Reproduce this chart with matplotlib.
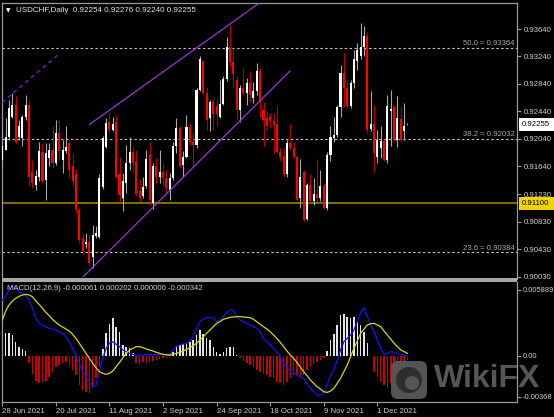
import matplotlib
matplotlib.use('Agg')
import matplotlib.pyplot as plt
import matplotlib.transforms as mtrans
from matplotlib.patches import Rectangle, FancyBboxPatch, Circle

plt.rcParams['font.family'] = ['Liberation Sans', 'DejaVu Sans']

# ---------------- data ----------------
opens = [0.9173, 0.9188, 0.9207, 0.9236, 0.9253, 0.9207, 0.9205, 0.9236, 0.9253, 0.9156,
         0.9136, 0.9149, 0.9184, 0.9144, 0.9176, 0.9188, 0.9169, 0.9212, 0.9173, 0.9186,
         0.9198, 0.9165, 0.9152, 0.9100, 0.9060, 0.9050, 0.9054, 0.9031, 0.9063, 0.9061,
         0.9134, 0.9192, 0.9228, 0.9217, 0.9228, 0.9152, 0.9118, 0.9139, 0.9169, 0.9184,
         0.9172, 0.9128, 0.9120, 0.9135, 0.9180, 0.9110, 0.9164, 0.9149, 0.9155, 0.9147,
         0.9130, 0.9147, 0.9194, 0.9219, 0.9166, 0.9178, 0.9221, 0.9200, 0.9195, 0.9275,
         0.9318, 0.9270, 0.9234, 0.9257, 0.9252, 0.9236, 0.9255, 0.9291, 0.9338, 0.9316,
         0.9290, 0.9246, 0.9278, 0.9270, 0.9286, 0.9263, 0.9274, 0.9303, 0.9246, 0.9234,
         0.9236, 0.9230, 0.9226, 0.9185, 0.9179, 0.9152, 0.9198, 0.9190, 0.9177, 0.9118,
         0.9156, 0.9087, 0.9137, 0.9113, 0.9124, 0.9117, 0.9135, 0.9103, 0.9181, 0.9205,
         0.9210, 0.9250, 0.9300, 0.9278, 0.9252, 0.9286, 0.9318, 0.9325, 0.9338, 0.9354,
         0.9218, 0.9226, 0.9178, 0.9190, 0.9201, 0.9173, 0.9245, 0.9250, 0.9202, 0.9233,
         0.9215, 0.92254]
highs = [0.9215, 0.9234, 0.9261, 0.9270, 0.9266, 0.9232, 0.9239, 0.9268, 0.9261, 0.9173,
         0.9159, 0.9200, 0.9198, 0.9198, 0.9198, 0.9222, 0.9232, 0.9232, 0.9202, 0.9222,
         0.9202, 0.9183, 0.9160, 0.9104, 0.9067, 0.9067, 0.9064, 0.9079, 0.9077, 0.9152,
         0.9208, 0.9234, 0.9241, 0.9236, 0.9239, 0.9178, 0.9154, 0.9195, 0.9207, 0.9193,
         0.9188, 0.9145, 0.9149, 0.9188, 0.9200, 0.9169, 0.9176, 0.9188, 0.9168, 0.9159,
         0.9154, 0.9200, 0.9234, 0.9223, 0.9186, 0.9239, 0.9227, 0.9212, 0.9278, 0.9324,
         0.9319, 0.9280, 0.9261, 0.9262, 0.9262, 0.9290, 0.9295, 0.9353, 0.9370, 0.9336,
         0.9295, 0.9283, 0.9307, 0.9292, 0.9302, 0.9287, 0.9314, 0.9307, 0.9258, 0.9244,
         0.9241, 0.9241, 0.9252, 0.9190, 0.9190, 0.9202, 0.9226, 0.9200, 0.9179, 0.9174,
         0.9159, 0.9139, 0.9152, 0.9147, 0.9174, 0.9158, 0.9140, 0.9185, 0.9223, 0.9236,
         0.9253, 0.9312, 0.9329, 0.9290, 0.9290, 0.9333, 0.9344, 0.9373, 0.9368, 0.9359,
         0.9273, 0.9253, 0.9217, 0.9222, 0.9203, 0.9268, 0.9275, 0.9253, 0.9266, 0.9252,
         0.9256, 0.92276]
lows = [0.9161, 0.9187, 0.9202, 0.9234, 0.9198, 0.9202, 0.9193, 0.9232, 0.9135, 0.9132,
        0.9130, 0.9142, 0.9139, 0.9115, 0.9164, 0.9161, 0.9166, 0.9173, 0.9154, 0.9183,
        0.9147, 0.9135, 0.9096, 0.9052, 0.9035, 0.9045, 0.9020, 0.9015, 0.9060, 0.9059,
        0.9131, 0.9191, 0.9212, 0.9215, 0.9147, 0.9113, 0.9098, 0.9125, 0.9159, 0.9156,
        0.9120, 0.9113, 0.9118, 0.9132, 0.9108, 0.9101, 0.9139, 0.9139, 0.9135, 0.9125,
        0.9115, 0.9144, 0.9183, 0.9161, 0.9149, 0.9176, 0.9195, 0.9164, 0.9190, 0.9273,
        0.9268, 0.9217, 0.9215, 0.9217, 0.9222, 0.9234, 0.9253, 0.9288, 0.9310, 0.9280,
        0.9232, 0.9229, 0.9268, 0.9253, 0.9258, 0.9256, 0.9268, 0.9236, 0.9193, 0.9217,
        0.9219, 0.9183, 0.9183, 0.9171, 0.9149, 0.9148, 0.9188, 0.9176, 0.9113, 0.9103,
        0.9084, 0.9085, 0.9110, 0.9108, 0.9113, 0.9113, 0.9101, 0.9100, 0.9172, 0.9199,
        0.9207, 0.9236, 0.9251, 0.9249, 0.9249, 0.9278, 0.9304, 0.9321, 0.9324, 0.9213,
        0.9215, 0.9156, 0.9169, 0.9176, 0.9171, 0.9168, 0.9193, 0.9200, 0.9192, 0.9200,
        0.9202, 0.92240]
closes = [0.9193, 0.9207, 0.9249, 0.9253, 0.9200, 0.9222, 0.9236, 0.9253, 0.9149, 0.9139,
          0.9150, 0.9186, 0.9142, 0.9183, 0.9188, 0.9169, 0.9213, 0.9186, 0.9187, 0.9192,
          0.9159, 0.9142, 0.9100, 0.9057, 0.9040, 0.9053, 0.9023, 0.9064, 0.9067, 0.9147,
          0.9205, 0.9227, 0.9217, 0.9226, 0.9149, 0.9122, 0.9143, 0.9169, 0.9184, 0.9169,
          0.9123, 0.9118, 0.9134, 0.9174, 0.9115, 0.9164, 0.9148, 0.9155, 0.9147, 0.9132,
          0.9147, 0.9194, 0.9219, 0.9164, 0.9178, 0.9221, 0.9200, 0.9195, 0.9275, 0.9320,
          0.9270, 0.9232, 0.9257, 0.9240, 0.9240, 0.9255, 0.9291, 0.9338, 0.9316, 0.9299,
          0.9246, 0.9278, 0.9270, 0.9286, 0.9268, 0.9274, 0.9303, 0.9258, 0.9232, 0.9223,
          0.9230, 0.9224, 0.9185, 0.9177, 0.9152, 0.9198, 0.9190, 0.9177, 0.9115, 0.9149,
          0.9086, 0.9137, 0.9113, 0.9124, 0.9117, 0.9135, 0.9103, 0.9181, 0.9207, 0.9210,
          0.9250, 0.9300, 0.9278, 0.9252, 0.9286, 0.9320, 0.9333, 0.9338, 0.9354, 0.9217,
          0.9226, 0.9183, 0.9202, 0.9201, 0.9173, 0.9252, 0.9248, 0.9202, 0.9235, 0.9202,
          0.9223, 0.92255]

# MACD values in units of 1e-4
macd_main = [49.9, 53.8, 58.9, 62.7, 60.4, 57.4, 55.9, 53.8, 49.9, 42.4,
             33.5, 29.0, 26.9, 26.0, 24.5, 23.9, 23.0, 21.5, 20.0, 17.0,
             12.5, 6.6, 0.6, -6.9, -14.3, -18.8, -23.3, -27.8, -26.3, -14.3,
             -2.4, 6.6, 11.1, 12.5, 10.2, 8.1, 5.1, 3.6, 2.1, 1.2,
             0.6, 0.6, 0.6, 1.2, 1.2, 1.2, 1.2, 0.9, 0.6, 0.6,
             1.2, 5.1, 8.7, 9.6, 10.5, 11.1, 13.1, 17.0, 24.5, 30.5,
             32.9, 34.1, 34.1, 33.5, 30.5, 32.0, 35.0, 38.8, 40.9, 40.9,
             35.0, 32.0, 30.5, 29.0, 27.5, 26.0, 24.5, 21.5, 15.5, 12.5,
             9.6, 6.6, 3.0, -0.9, -6.9, -10.8, -14.3, -15.8, -17.3, -18.8,
             -20.3, -24.8, -29.3, -32.3, -35.3, -35.3, -33.8, -26.3, -17.3, -12.8,
             -3.9, 5.1, 12.5, 15.5, 18.5, 23.0, 30.5, 38.8, 43.0, 35.0,
             27.5, 21.5, 14.0, 6.6, 1.2, 2.1, 3.6, 3.0, 2.1, 1.2,
             0.6, -0.61]
macd_signal = [32.0, 40.0, 45.4, 49.0, 51.4, 53.2, 54.4, 55.0, 54.4, 52.9,
               49.0, 46.0, 42.4, 38.8, 35.9, 32.6, 29.9, 27.5, 25.7, 23.9,
               22.1, 19.1, 15.5, 11.1, 6.6, 2.1, -2.4, -6.9, -10.8, -14.3,
               -15.8, -16.7, -15.8, -13.7, -9.9, -6.0, -1.8, 2.1, 5.1, 6.6,
               8.1, 8.1, 7.2, 6.0, 5.1, 4.2, 3.0, 2.1, 1.2, 0.9,
               0.6, 1.2, 2.1, 3.0, 4.2, 5.7, 7.2, 9.0, 11.1, 14.0,
               17.0, 20.0, 23.0, 26.0, 29.0, 30.5, 32.6, 33.5, 34.4, 34.7,
               35.0, 35.0, 34.7, 34.4, 34.1, 32.6, 30.5, 28.1, 26.0, 23.9,
               21.5, 18.5, 15.5, 12.0, 8.1, 4.2, 0.6, -2.4, -6.0, -10.2,
               -14.3, -17.9, -21.8, -24.8, -27.8, -29.9, -32.3, -32.9, -31.7, -29.3,
               -24.8, -20.3, -14.3, -8.4, -0.9, 6.6, 13.1, 20.0, 23.9, 27.5,
               28.7, 29.0, 27.5, 26.0, 22.1, 18.5, 14.9, 11.1, 8.1, 5.1,
               3.6, 2.02]
macd_hist = [27.5, 20.0, 20.0, 18.5, 12.5, 8.1, 6.0, 4.2, -6.9, -16.7,
             -22.7, -24.8, -23.9, -22.7, -18.8, -14.3, -9.9, -8.4, -6.9, -6.0,
             -8.4, -12.8, -17.3, -26.3, -30.8, -32.3, -33.8, -29.3, -20.3, -9.9,
             6.0, 20.0, 28.1, 33.5, 26.0, 21.5, 9.6, 8.1, 6.6, 2.1,
             -6.9, -8.4, -6.0, -6.9, -6.0, -4.8, -3.9, -3.0, -1.8, -1.8,
             1.2, 3.6, 9.0, 9.6, 10.2, 11.1, 12.5, 14.0, 18.5, 23.0,
             19.1, 15.5, 14.0, 8.1, 3.0, 1.2, 3.6, 7.2, 8.1, 8.1,
             0.6, -2.4, -4.8, -6.9, -8.4, -9.9, -12.8, -14.9, -16.7, -17.3,
             -18.8, -20.3, -23.3, -24.8, -26.3, -23.3, -20.3, -17.3, -17.3, -20.3,
             -17.3, -12.8, -9.9, -7.8, -6.0, -3.9, -1.8, 4.2, 14.0, 19.1,
             27.5, 36.5, 37.0, 35.0, 34.1, 35.0, 32.0, 27.5, 21.5, 11.1,
             0.0, -14.3, -18.8, -23.3, -26.3, -29.3, -24.8, -17.3, -14.3, -9.9,
             -6.0, -3.42]

date_labels = ['28 Jun 2021', '20 Jul 2021', '11 Aug 2021', '2 Sep 2021',
               '24 Sep 2021', '18 Oct 2021', '9 Nov 2021', '1 Dec 2021']
date_bars = [0, 16, 32, 48, 64, 80, 96, 112]

price_ticks = [0.93640, 0.93240, 0.92840, 0.92440, 0.92040,
               0.91640, 0.91230, 0.90830, 0.90430, 0.90030]
macd_ticks = [0.005889, 0.0, -0.00368]
macd_tick_labels = ['0.005889', '0.00', '-0.00368']

fib_names = ['50.0', '38.2', '23.6']
fib_levels = [0.93364, 0.92032, 0.90384]
support_level = 0.91100
last_price = 0.92255

# trend lines: (bar, price) end points
dashed_line = [(-0.1, 0.92567), (17.2, 0.93286)]
channel_upper = [(26.1, 0.92251), (76.5, 0.94010)]
channel_lower = [(24.2, 0.90030), (85.9, 0.93028)]

header = 'USDCHF,Daily  0.92254 0.92276 0.92240 0.92255'
macd_header = 'MACD(12,26,9) -0.000061 0.000202 0.000000 -0.000342'

# ---------------- figure ----------------
W, H = 554, 417
fig = plt.figure(figsize=(W / 100, H / 100), dpi=100, facecolor='black')


def fx(px):
    return px / W


def fy(py):
    return 1 - py / H


ax = fig.add_axes([fx(2), fy(279), fx(517) - fx(2), fy(3) - fy(279)])
ax2 = fig.add_axes([fx(2), fy(402), fx(517) - fx(2), fy(281.5) - fy(402)])

GRID = '#9a9a9a'
TXT = '#d0d0d0'
FS = 5.6

for a in (ax, ax2):
    a.set_facecolor('black')
    a.set_xlim(-0.09, 153.7)
    for s in a.spines.values():
        s.set_color(GRID)
        s.set_linewidth(0.9)
ax.spines['bottom'].set_visible(False)
ax2.spines['top'].set_visible(False)

# candles
n = len(opens)
idx = list(range(n))
up = [c >= o for o, c in zip(opens, closes)]
wick_cols = ['#a8a8a8' if u else '#b80000' for u in up]
body_cols = ['#ffffff' if u else '#ff0000' for u in up]
ax.vlines(idx, lows, highs, colors=wick_cols, lw=0.8, zorder=3)
bottoms = [min(o, c) for o, c in zip(opens, closes)]
heights = [max(abs(c - o), 0.00005) for o, c in zip(opens, closes)]
ax.bar(idx, heights, bottom=bottoms, width=0.62, color=body_cols, lw=0, zorder=4)

ax.set_ylim(0.89996, 0.94019)

# fib levels
trans = mtrans.blended_transform_factory(ax.transAxes, ax.transData)
for name, lvl in zip(fib_names, fib_levels):
    ax.axhline(lvl, color='#c4c4c4', lw=0.8, ls=(0, (2.2, 2.2)), zorder=2)
    ax.text(0.996, lvl + 0.00063, f'{name} = {lvl:.5f}', transform=trans,
            ha='right', va='center', fontsize=FS, color='#a8a8a8', zorder=5)

ax.axhline(support_level, color='#a88e0a', lw=1.1, zorder=2)

# trend lines
ax.plot([p[0] for p in dashed_line], [p[1] for p in dashed_line], color='#7a1fb0', lw=1.0,
        ls=(0, (3, 2.5)), zorder=5)
ax.plot([p[0] for p in channel_upper], [p[1] for p in channel_upper], color='#9a35d8', lw=0.9, zorder=5)
ax.plot([p[0] for p in channel_lower], [p[1] for p in channel_lower], color='#9a35d8', lw=0.9, zorder=5)

# price axis
ax.yaxis.tick_right()
ax.set_yticks(price_ticks)
ax.set_yticklabels([f'{v:.5f}' for v in price_ticks])
ax.tick_params(axis='y', colors=GRID, labelcolor=TXT, length=3, width=0.8, pad=1.5, labelsize=FS)
ax.tick_params(axis='x', bottom=False, labelbottom=False)

box_h = 13 / 6861
for val, fc in ((last_price, '#ffffff'), (support_level, '#f2d200')):
    r = Rectangle((1.0039, val - box_h / 2), 0.068, box_h, transform=trans, facecolor=fc,
                  edgecolor='none', clip_on=False, zorder=10)
    ax.add_patch(r)
    ax.text(1.0085, val, f'{val:.5f}', transform=trans, ha='left', va='center', fontsize=FS,
            color='black', clip_on=False, zorder=11)

# MACD panel
hist_vals = [h * 1e-4 for h in macd_hist]
hist_cols = ['#e4e4e4' if h >= 0 else '#cc0000' for h in macd_hist]
ax2.bar(idx, hist_vals, width=0.45, color=hist_cols, lw=0, zorder=2)
ax2.plot(idx, [v * 1e-4 for v in macd_main], color='#1414ff', lw=0.9, zorder=3)
ax2.plot(idx, [v * 1e-4 for v in macd_signal], color='#d8d800', lw=0.9, zorder=4)
ax2.set_ylim(-0.00415, 0.00665)
ax2.yaxis.tick_right()
ax2.set_yticks(macd_ticks)
ax2.set_yticklabels(macd_tick_labels)
ax2.tick_params(axis='y', colors=GRID, labelcolor=TXT, length=3, width=0.8, pad=1.0, labelsize=5.4)
ax2.set_xticks(date_bars)
ax2.set_xticklabels(date_labels, ha='left')
ax2.tick_params(axis='x', colors=GRID, labelcolor=TXT, length=3, width=0.8, pad=1.5, labelsize=FS)
ax2.text(0.009, 0.938, macd_header, transform=ax2.transAxes, ha='left', va='center',
         fontsize=FS, color=TXT, zorder=6)

# separator between panels
fig.patches.append(Rectangle((fx(2), fy(281.7)), fx(517) - fx(2), fy(278.3) - fy(281.7),
                             transform=fig.transFigure, facecolor='#a8a8a8', edgecolor='none'))

# header
fig.text(fx(8.5), fy(10.5), '\u25BC', fontsize=4.2, color='white', ha='center', va='center',
         family=['DejaVu Sans'])
fig.text(fx(15.5), fy(10.8), header, fontsize=5.8, color='#e6e6e6', ha='left', va='center')

# watermark
pix = mtrans.IdentityTransform()
logo = FancyBboxPatch((391, H - 399), 36, 38, boxstyle='round,pad=0,rounding_size=7',
                      transform=pix, facecolor='#595959', edgecolor='none', alpha=0.95, zorder=20)
fig.patches.append(logo)
fig.patches.append(Circle((409, H - 380), 13, transform=pix, facecolor='#2c2c2c',
                          edgecolor='none', alpha=0.95, zorder=21))
fig.patches.append(Circle((412, H - 383), 7, transform=pix, facecolor='#595959',
                          edgecolor='none', alpha=0.95, zorder=22))
fig.text(fx(434), fy(379), 'WikiFX', fontsize=23, fontweight='bold', color='#5c5c5c',
         ha='left', va='center', alpha=0.95, zorder=20)

fig.savefig('out.png', dpi=100, facecolor='black')
